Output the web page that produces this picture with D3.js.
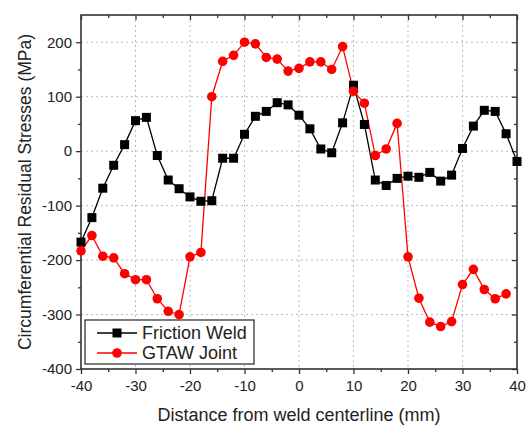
<!DOCTYPE html>
<html>
<head>
<meta charset="utf-8">
<script src="https://cdn.jsdelivr.net/npm/d3@7"></script>
<style>
  body { margin: 0; background: #fff; }
  text { font-family: "Liberation Sans", Arial, sans-serif; fill: #222; }
</style>
</head>
<body>
<div id="plot"></div>
<script>
// distance from weld centerline (mm)
const frictionX = d3.range(-40, 41, 2);
const frictionY = [-167, -122, -68, -26, 12, 56, 62, -8, -53, -69, -84, -92, -91, -13,
  -13, 31, 64, 73, 89, 85, 66, 41, 4, -3, 52, 121, 49, -53,
  -63, -50, -46, -48, -39, -55, -44, 5, 46, 75, 73, 32, -19];

const gtawX = d3.range(-40, 39, 2);
const gtawY = [-183, -155, -193, -196, -225, -236, -236, -271, -294, -300, -194, -186,
  100, 165, 176, 200, 197, 172, 169, 147, 152, 164, 164, 150, 192, 110, 88, -8,
  4, 51, -194, -270, -314, -322, -313, -245, -217, -254, -271, -262];

const xMajor = [-40, -30, -20, -10, 0, 10, 20, 30, 40];
const yMajor = [-400, -300, -200, -100, 0, 100, 200];

const width = 526, height = 426;
const pl = 81, pr = 517, pt = 15, pb = 369;

const svg = d3.select("#plot").append("svg")
  .attr("width", width)
  .attr("height", height);

const x = d3.scaleLinear().domain([-40, 40]).range([pl, pr]);
const y = d3.scaleLinear().domain([-400, 250]).range([pb, pt]);

// dotted grid
svg.append("g").selectAll("line")
  .data(xMajor.filter(d => d > -40 && d < 40))
  .join("line")
  .attr("x1", d => x(d)).attr("x2", d => x(d))
  .attr("y1", pt).attr("y2", pb)
  .attr("stroke", "#bbb").attr("stroke-width", 1).attr("stroke-dasharray", "2,3");

svg.append("g").selectAll("line")
  .data(yMajor.filter(d => d > -400))
  .join("line")
  .attr("x1", pl).attr("x2", pr)
  .attr("y1", d => y(d)).attr("y2", d => y(d))
  .attr("stroke", "#bbb").attr("stroke-width", 1).attr("stroke-dasharray", "2,3");

// axes
const xMinor = d3.range(-35, 40, 10);
const yMinor = d3.range(-350, 250, 100);
const plain = d => String(d); // hyphen minus like the original

function styleAxis(g) {
  g.select(".domain").remove();
  g.selectAll(".tick line").attr("stroke", "#333").attr("stroke-width", 1.3);
  g.selectAll(".tick text").style("font-size", "15px").attr("fill", "#222");
}

svg.append("g")
  .attr("transform", `translate(0,${pb})`)
  .call(d3.axisBottom(x).tickValues(xMajor).tickSize(5).tickPadding(6).tickFormat(plain))
  .call(styleAxis);
svg.append("g")
  .attr("transform", `translate(0,${pb})`)
  .call(d3.axisBottom(x).tickValues(xMinor).tickSize(3).tickFormat(""))
  .call(styleAxis);
svg.append("g")
  .attr("transform", `translate(0,${pt})`)
  .call(d3.axisBottom(x).tickValues(xMajor).tickSize(5).tickFormat(""))
  .call(styleAxis);
svg.append("g")
  .attr("transform", `translate(0,${pt})`)
  .call(d3.axisBottom(x).tickValues(xMinor).tickSize(3).tickFormat(""))
  .call(styleAxis);

svg.append("g")
  .attr("transform", `translate(${pl},0)`)
  .call(d3.axisLeft(y).tickValues(yMajor).tickSize(5).tickPadding(4).tickFormat(plain))
  .call(styleAxis);
svg.append("g")
  .attr("transform", `translate(${pl},0)`)
  .call(d3.axisLeft(y).tickValues(yMinor).tickSize(3).tickFormat(""))
  .call(styleAxis);
svg.append("g")
  .attr("transform", `translate(${pr},0)`)
  .call(d3.axisLeft(y).tickValues(yMajor).tickSize(5).tickFormat(""))
  .call(styleAxis);
svg.append("g")
  .attr("transform", `translate(${pr},0)`)
  .call(d3.axisLeft(y).tickValues(yMinor).tickSize(3).tickFormat(""))
  .call(styleAxis);

// frame
svg.append("rect")
  .attr("x", pl).attr("y", pt)
  .attr("width", pr - pl).attr("height", pb - pt)
  .attr("fill", "none").attr("stroke", "#333").attr("stroke-width", 1.6);

// series
const line = d3.line().x(d => x(d[0])).y(d => y(d[1]));
const friction = frictionX.map((v, i) => [v, frictionY[i]]);
const gtaw = gtawX.map((v, i) => [v, gtawY[i]]);

svg.append("path").datum(friction)
  .attr("fill", "none").attr("stroke", "#000").attr("stroke-width", 1.3)
  .attr("d", line);
svg.append("path").datum(gtaw)
  .attr("fill", "none").attr("stroke", "#ff0000").attr("stroke-width", 1.3)
  .attr("d", line);

svg.append("g").selectAll("rect")
  .data(friction)
  .join("rect")
  .attr("x", d => x(d[0]) - 4.5).attr("y", d => y(d[1]) - 4.5)
  .attr("width", 9).attr("height", 9)
  .attr("fill", "#000");

svg.append("g").selectAll("circle")
  .data(gtaw)
  .join("circle")
  .attr("cx", d => x(d[0])).attr("cy", d => y(d[1]))
  .attr("r", 4.8)
  .attr("fill", "#ff0000");

// legend
const legend = svg.append("g");
legend.append("rect")
  .attr("x", 85).attr("y", 320).attr("width", 169).attr("height", 44)
  .attr("fill", "#fff").attr("stroke", "#333").attr("stroke-width", 1.3);

legend.append("line")
  .attr("x1", 97).attr("x2", 137).attr("y1", 333).attr("y2", 333)
  .attr("stroke", "#000").attr("stroke-width", 1.3);
legend.append("rect")
  .attr("x", 112.5).attr("y", 328.5).attr("width", 9).attr("height", 9).attr("fill", "#000");
legend.append("text")
  .attr("x", 142).attr("y", 339).style("font-size", "18px").text("Friction Weld");

legend.append("line")
  .attr("x1", 97).attr("x2", 137).attr("y1", 353).attr("y2", 353)
  .attr("stroke", "#ff0000").attr("stroke-width", 1.3);
legend.append("circle")
  .attr("cx", 117).attr("cy", 353).attr("r", 4.8).attr("fill", "#ff0000");
legend.append("text")
  .attr("x", 142).attr("y", 359).style("font-size", "18px").text("GTAW Joint");

// axis titles
svg.append("text")
  .attr("x", (pl + pr) / 2).attr("y", 421)
  .attr("text-anchor", "middle")
  .style("font-size", "18px")
  .text("Distance from weld centerline (mm)");

svg.append("text")
  .attr("transform", `translate(31,${(pt + pb) / 2}) rotate(-90)`)
  .attr("text-anchor", "middle")
  .style("font-size", "17.5px")
  .text("Circumferential Residual Stresses (MPa)");
</script>
</body>
</html>
